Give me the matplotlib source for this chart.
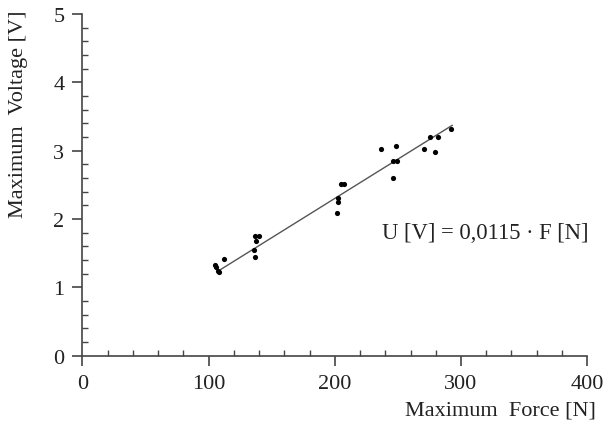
import numpy as np
import matplotlib
matplotlib.use("Agg")
import matplotlib.pyplot as plt
from matplotlib.ticker import MultipleLocator

# measured points: maximum force [N] vs maximum voltage [V]
force = [104.8, 105.8, 107.3, 108.2, 112.0,
         135.6, 136.5, 136.9, 137.8, 140.0,
         201.9, 202.5, 202.8, 205.0, 207.5,
         236.7, 246.3, 246.3, 249.5, 248.8,
         270.6, 275.3, 279.3, 281.8, 292.0]
voltage = [1.33, 1.29, 1.24, 1.23, 1.42,
           1.54, 1.44, 1.75, 1.67, 1.75,
           2.08, 2.25, 2.30, 2.51, 2.51,
           3.02, 2.60, 2.85, 2.85, 3.07,
           3.02, 3.20, 2.98, 3.20, 3.32]

slope = 0.0115
fit_range = [109.5, 293.0]

plt.rcParams['font.family'] = ['Liberation Serif', 'DejaVu Serif']

fig = plt.figure(figsize=(6.11, 4.27), dpi=100)
ax = fig.add_axes([0.135, 0.165, 0.826, 0.8])

fx = np.array(fit_range)
ax.plot(fx, slope * fx, color='#555555', lw=1.0, zorder=2)
ax.scatter(force, voltage, s=14, color='black', zorder=3, linewidths=0)

ax.text(237, 1.8, 'U [V] = 0,0115 \u00b7 F [N]', fontsize=16.3,
        color='#222222', va='center', ha='left')

ax.set_xlim(0, 400)
ax.set_ylim(0, 5)
ax.xaxis.set_major_locator(MultipleLocator(100))
ax.xaxis.set_minor_locator(MultipleLocator(20))
ax.yaxis.set_major_locator(MultipleLocator(1))
ax.yaxis.set_minor_locator(MultipleLocator(0.2))

for s in ['top', 'right']:
    ax.spines[s].set_visible(False)
for s in ['left', 'bottom']:
    ax.spines[s].set_color('#444444')
    ax.spines[s].set_linewidth(1.2)

ax.tick_params(which='major', direction='out', length=7, width=1.2,
               color='#444444', labelsize=16, labelcolor='#222222', pad=6)
ax.tick_params(which='minor', direction='in', length=4, width=1.0,
               color='#444444')

fig.text(0.975, 0.015, 'Maximum  Force [N]', fontsize=16, color='#222222',
         ha='right', va='bottom')
fig.text(0.015, 0.975, 'Maximum  Voltage [V]', fontsize=16, color='#222222',
         ha='left', va='top', rotation=90)

fig.savefig('out.png', dpi=100)
